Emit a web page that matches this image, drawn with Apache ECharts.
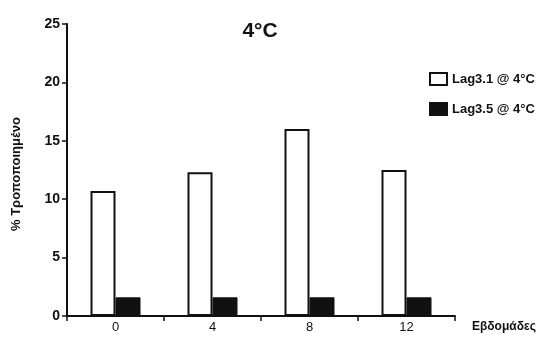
<!DOCTYPE html>
<html>
<head>
<meta charset="utf-8">
<script src="https://cdn.jsdelivr.net/npm/echarts@6/dist/echarts.min.js"></script>
<style>html,body{margin:0;padding:0;background:#fff;}#c{width:545px;height:338px;}</style>
</head>
<body>
<div id="c"></div>
<script>
const categories = ['0', '4', '8', '12'];
const lag31 = [10.7, 12.3, 16.0, 12.5];
const lag35 = [1.6, 1.6, 1.6, 1.6];
const seriesNames = ['Lag3.1 @ 4°C', 'Lag3.5 @ 4°C'];
const titleText = '4°C';
const yName = '% Τροποποιημένο';
const xName = 'Εβδομάδες';

const font = "'Liberation Sans Narrow', 'Liberation Sans', Arial, sans-serif";
const chart = echarts.init(document.getElementById('c'));
chart.setOption({
  animation: false,
  backgroundColor: '#fff',
  title: {
    text: titleText, left: 255, top: 16, textAlign: 'center',
    textStyle: { fontFamily: 'Liberation Sans, Arial', fontWeight: 'bold', fontSize: 21, color: '#111' }
  },
  legend: {
    orient: 'vertical', left: 424, top: 67, itemGap: 16,
    itemWidth: 17, itemHeight: 12, icon: 'rect',
    textStyle: { fontFamily: font, fontWeight: 'bold', fontSize: 13, color: '#111' },
    data: seriesNames
  },
  grid: { left: 67, right: 90, top: 24, bottom: 22, containLabel: false },
  xAxis: {
    type: 'category', data: categories,
    name: xName, nameLocation: 'end', nameGap: 17,
    nameTextStyle: { fontFamily: font, fontWeight: 'bold', fontSize: 12, color: '#111', verticalAlign: 'top', padding: [5, 0, 0, 0] },
    axisLine: { lineStyle: { color: '#111', width: 2 } },
    axisTick: { show: true, length: 5, lineStyle: { color: '#111', width: 1.5 } },
    axisLabel: { fontFamily: 'Liberation Sans, Arial', fontSize: 13, color: '#111', margin: 5 }
  },
  yAxis: {
    type: 'value', min: 0, max: 25, interval: 5,
    name: yName, nameLocation: 'middle', nameGap: 44, nameRotate: 90,
    nameTextStyle: { fontFamily: font, fontWeight: 'bold', fontSize: 13, color: '#111', padding: [0, 8, 0, 0] },
    axisLine: { show: true, lineStyle: { color: '#111', width: 2 } },
    axisTick: { show: true, length: 5, lineStyle: { color: '#111', width: 1.5 } },
    splitLine: { show: false },
    axisLabel: { fontFamily: 'Liberation Sans, Arial', fontWeight: 'bold', fontSize: 14, color: '#111', margin: 7 }
  },
  series: [
    { name: seriesNames[0], type: 'bar', data: lag31, barWidth: 25, barGap: '0%',
      itemStyle: { color: '#fff', borderColor: '#111', borderWidth: 2 } },
    { name: seriesNames[1], type: 'bar', data: lag35, barWidth: 25,
      itemStyle: { color: '#111', borderColor: '#111', borderWidth: 1 } }
  ]
});
</script>
</body>
</html>
